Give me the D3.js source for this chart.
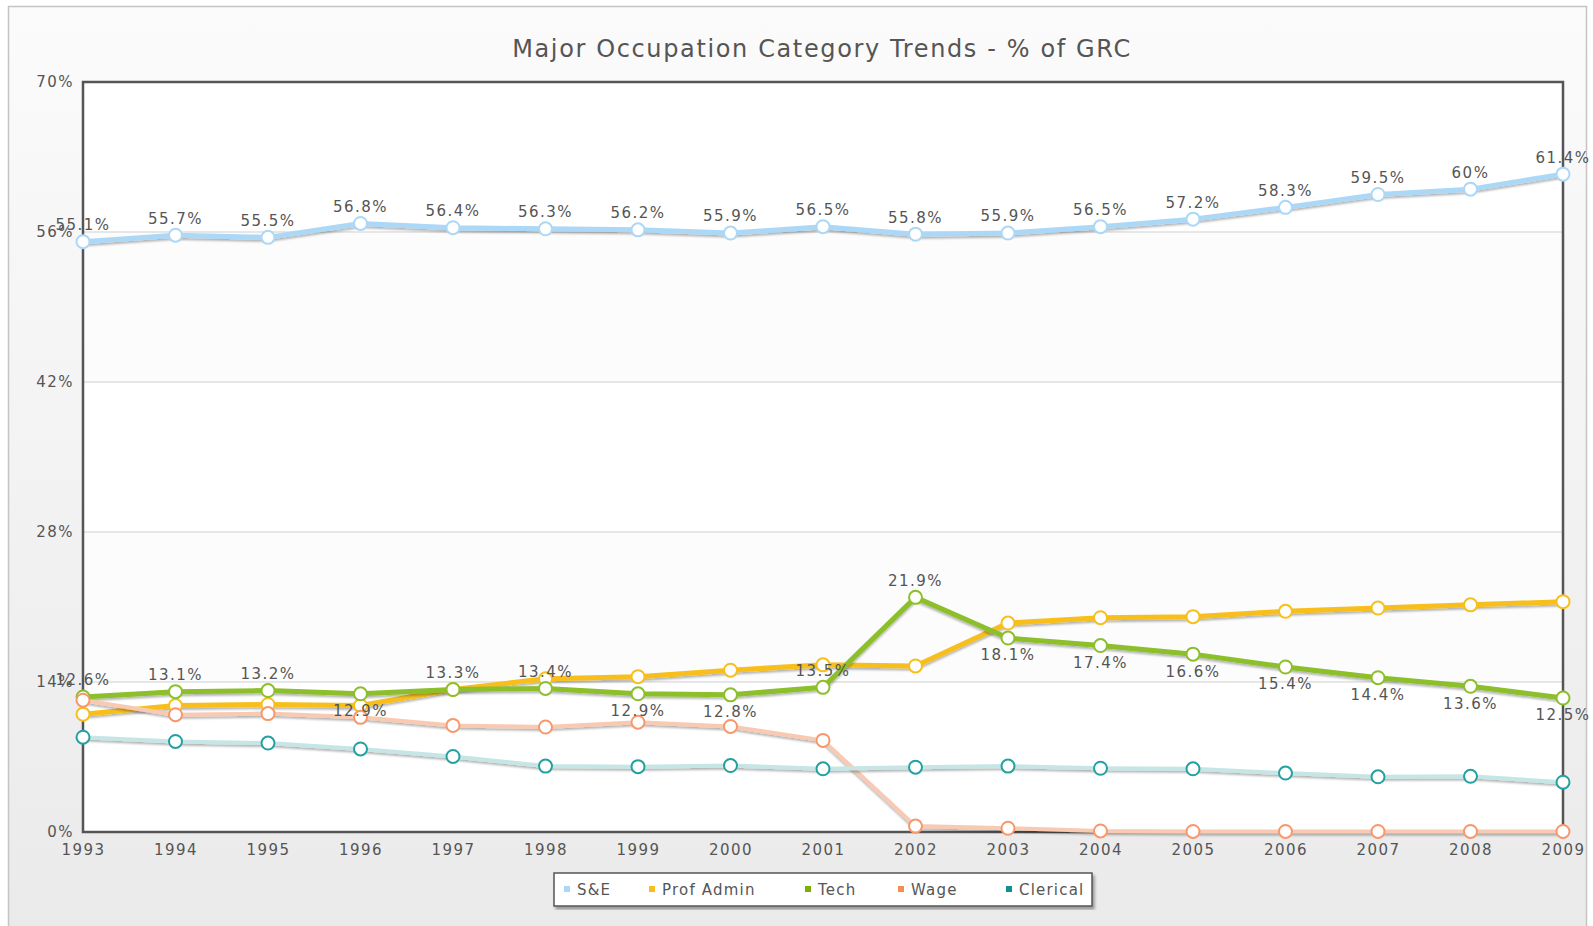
<!DOCTYPE html>
<html>
<head>
<meta charset="utf-8">
<script src="https://cdn.jsdelivr.net/npm/d3@7"></script>
<style>
  html, body { margin: 0; padding: 0; background: #fff; }
  text { font-family: "DejaVu Sans", Verdana, sans-serif; fill: #555; }
</style>
</head>
<body>
<div id="chart"></div>
<script>
var years = ['1993', '1994', '1995', '1996', '1997', '1998', '1999', '2000', '2001',
             '2002', '2003', '2004', '2005', '2006', '2007', '2008', '2009'];

var seData = [55.1, 55.7, 55.5, 56.8, 56.4, 56.3, 56.2, 55.9, 56.5, 55.8, 55.9, 56.5, 57.2, 58.3, 59.5, 60, 61.4];
var profAdminData = [11.0, 11.8, 11.9, 11.8, 13.3, 14.3, 14.5, 15.1, 15.6, 15.5, 19.5, 20.0, 20.1, 20.6, 20.9, 21.2, 21.5];
var techData = [12.6, 13.1, 13.2, 12.9, 13.3, 13.4, 12.9, 12.8, 13.5, 21.9, 18.1, 17.4, 16.6, 15.4, 14.4, 13.6, 12.5];
var wageData = [12.3, 10.95, 11.05, 10.7, 9.95, 9.8, 10.25, 9.85, 8.55, 0.55, 0.35, 0.1, 0.05, 0.05, 0.05, 0.05, 0.05];
var clericalData = [8.85, 8.45, 8.3, 7.75, 7.05, 6.15, 6.1, 6.2, 5.9, 6.05, 6.15, 5.95, 5.9, 5.5, 5.15, 5.2, 4.65];

var yTicks = [0, 14, 28, 42, 56, 70];

var series = [
    { name: 'S&E', values: seData, line: '#acd8f8', stroke: '#acd8f8', key: '#acd8f8', width: 5, labels: 'above' },
    { name: 'Prof Admin', values: profAdminData, line: '#f8bf1c', stroke: '#f8bf1c', key: '#f8bf1c', width: 5, labels: null },
    { name: 'Tech', values: techData, line: '#8cbf2c', stroke: '#8cbf2c', key: '#7fb000', width: 5, labels: 'auto' },
    { name: 'Wage', values: wageData, line: '#f9c9b2', stroke: '#f9976a', key: '#f98c50', width: 4, labels: null },
    { name: 'Clerical', values: clericalData, line: '#c6e6e6', stroke: '#23a0a0', key: '#109090', width: 4, labels: null }
];

var width = 1593,
    height = 926,
    plot = { left: 83, right: 1563, top: 82, bottom: 832 };

var svg = d3.select('#chart')
    .append('svg')
    .attr('width', width)
    .attr('height', height);

var defs = svg.append('defs');

var bg = defs.append('linearGradient')
    .attr('id', 'bg')
    .attr('x1', 0).attr('y1', 0).attr('x2', 0).attr('y2', 1);
bg.append('stop').attr('offset', '0%').attr('stop-color', '#fbfbfb');
bg.append('stop').attr('offset', '100%').attr('stop-color', '#eaeaea');

defs.append('filter')
    .attr('id', 'shadow')
    .attr('x', '-5%').attr('y', '-50%').attr('width', '110%').attr('height', '200%')
    .append('feDropShadow')
    .attr('dx', 0).attr('dy', 2)
    .attr('stdDeviation', 1)
    .attr('flood-color', '#000')
    .attr('flood-opacity', 0.3);

defs.append('filter')
    .attr('id', 'boxshadow')
    .append('feDropShadow')
    .attr('dx', 2).attr('dy', 3)
    .attr('stdDeviation', 1.5)
    .attr('flood-color', '#000')
    .attr('flood-opacity', 0.35);

// outer panel
svg.append('rect')
    .attr('x', 8.5).attr('y', 6.5)
    .attr('width', 1578).attr('height', 930)
    .attr('fill', 'url(#bg)')
    .attr('stroke', '#c4c4c4')
    .attr('stroke-width', 1.5);

var x = d3.scalePoint()
    .domain(years)
    .range([plot.left, plot.right]);

var y = d3.scaleLinear()
    .domain([0, 70])
    .range([plot.bottom, plot.top]);

// plot background with alternating bands
svg.append('rect')
    .attr('x', plot.left).attr('y', plot.top)
    .attr('width', plot.right - plot.left)
    .attr('height', plot.bottom - plot.top)
    .attr('fill', '#fff');

svg.selectAll('rect.band')
    .data(d3.pairs(yTicks).filter(function (d, i) { return i % 2 === 1; }))
    .enter()
    .append('rect')
    .attr('class', 'band')
    .attr('x', plot.left)
    .attr('width', plot.right - plot.left)
    .attr('y', function (d) { return y(d[1]); })
    .attr('height', function (d) { return y(d[0]) - y(d[1]); })
    .attr('fill', '#fcfcfc');

svg.selectAll('line.grid')
    .data(yTicks.slice(1, -1))
    .enter()
    .append('line')
    .attr('class', 'grid')
    .attr('x1', plot.left).attr('x2', plot.right)
    .attr('y1', function (d) { return y(d); })
    .attr('y2', function (d) { return y(d); })
    .attr('stroke', '#cfcfcf')
    .attr('stroke-width', 1);

// axis labels
var yAxis = d3.axisLeft(y)
    .tickValues(yTicks)
    .tickSize(0)
    .tickPadding(9)
    .tickFormat(function (d) { return d + '%'; });

var yg = svg.append('g')
    .attr('transform', 'translate(' + plot.left + ',0)')
    .call(yAxis);
yg.select('.domain').remove();
yg.selectAll('text')
    .attr('font-size', 15)
    .attr('letter-spacing', 1.5)
    .attr('font-family', 'DejaVu Sans')
    .attr('fill', '#555');

var xAxis = d3.axisBottom(x)
    .tickSize(0)
    .tickPadding(12);

var xg = svg.append('g')
    .attr('transform', 'translate(0,' + plot.bottom + ')')
    .call(xAxis);
xg.select('.domain').remove();
xg.selectAll('text')
    .attr('font-size', 15)
    .attr('letter-spacing', 1.5)
    .attr('font-family', 'DejaVu Sans')
    .attr('fill', '#555');

// frame
svg.append('rect')
    .attr('x', plot.left).attr('y', plot.top)
    .attr('width', plot.right - plot.left)
    .attr('height', plot.bottom - plot.top)
    .attr('fill', 'none')
    .attr('stroke', '#555')
    .attr('stroke-width', 2.5);

// series
var line = d3.line()
    .x(function (d, i) { return x(years[i]); })
    .y(function (d) { return y(d); });

series.forEach(function (s) {
    var g = svg.append('g').attr('class', 'series');

    g.append('path')
        .datum(s.values)
        .attr('d', line)
        .attr('fill', 'none')
        .attr('stroke', s.line)
        .attr('stroke-width', s.width)
        .attr('stroke-linejoin', 'round')
        .attr('filter', 'url(#shadow)');

    g.selectAll('circle')
        .data(s.values)
        .enter()
        .append('circle')
        .attr('cx', function (d, i) { return x(years[i]); })
        .attr('cy', function (d) { return y(d); })
        .attr('r', 6.5)
        .attr('fill', '#fff')
        .attr('stroke', s.stroke)
        .attr('stroke-width', 2);
});

// value labels
series.filter(function (s) { return s.labels; }).forEach(function (s) {
    svg.append('g').selectAll('text')
        .data(s.values)
        .enter()
        .append('text')
        .attr('x', function (d, i) { return x(years[i]); })
        .attr('y', function (d, i) {
            var below = s.labels === 'auto' && i > 0 && d < s.values[i - 1];
            return y(d) + (below ? 17 : -17);
        })
        .attr('dy', '0.36em')
        .attr('text-anchor', 'middle')
        .attr('font-size', 15)
        .attr('letter-spacing', 1.5)
        .text(function (d) { return d + '%'; });
});

// title
var title = svg.append('text')
    .attr('x', 822)
    .attr('y', 48)
    .attr('dy', '0.36em')
    .attr('text-anchor', 'middle')
    .attr('font-size', 24)
    .attr('fill', '#555')
    .text('Major Occupation Category Trends - % of GRC');
var tl = title.node().getComputedTextLength();
title.attr('letter-spacing', (618 - tl) / 42);

// legend
var legend = svg.append('g');
legend.append('rect')
    .attr('x', 554).attr('y', 873)
    .attr('width', 538).attr('height', 33)
    .attr('fill', '#fff')
    .attr('stroke', '#555')
    .attr('stroke-width', 1.5)
    .attr('filter', 'url(#boxshadow)');

var legendX = [567, 652, 808, 901, 1009];
var items = legend.selectAll('g.item')
    .data(series)
    .enter()
    .append('g')
    .attr('class', 'item')
    .attr('transform', function (d, i) { return 'translate(' + legendX[i] + ',890)'; });

items.append('rect')
    .attr('x', -3).attr('y', -4)
    .attr('width', 6).attr('height', 6)
    .attr('fill', function (d) { return d.key; });

items.append('text')
    .attr('x', 10)
    .attr('dy', '0.3em')
    .attr('font-size', 15)
    .attr('letter-spacing', 1.2)
    .text(function (d) { return d.name; });
</script>
</body>
</html>
